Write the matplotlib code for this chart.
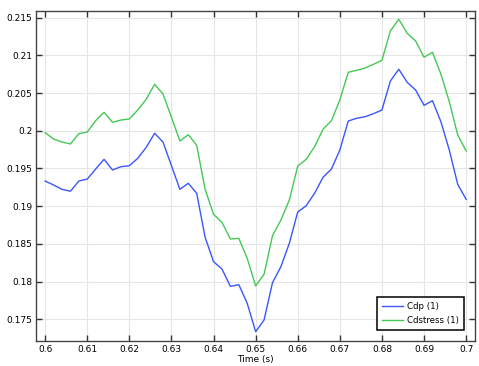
import numpy as np
import matplotlib
matplotlib.use('Agg')
import matplotlib.pyplot as plt

# time samples, every 0.002 s
t = np.arange(51) * 0.002 + 0.6

cdp = [0.19334, 0.19281, 0.19224, 0.19198, 0.19334, 0.19360, 0.19493, 0.19622,
       0.19480, 0.19524, 0.19537, 0.19635, 0.19780, 0.19967, 0.19850, 0.19537,
       0.19224, 0.19304, 0.19171, 0.18587, 0.18264, 0.18167, 0.17937, 0.17959,
       0.17712, 0.17335, 0.17491, 0.17985, 0.18198, 0.18508, 0.18923, 0.19006,
       0.19171, 0.19383, 0.19493, 0.19745, 0.20130, 0.20166, 0.20187, 0.20227,
       0.20276, 0.20660, 0.20816, 0.20643, 0.20541, 0.20338, 0.20399, 0.20121,
       0.19745, 0.19290, 0.19091]

cdstress = [0.19975, 0.19891, 0.19851, 0.19825, 0.19962, 0.19984, 0.20134, 0.20245,
            0.20113, 0.20143, 0.20157, 0.20276, 0.20418, 0.20617, 0.20488, 0.20179,
            0.19865, 0.19948, 0.19808, 0.19224, 0.18893, 0.18786, 0.18565, 0.18574,
            0.18309, 0.17942, 0.18097, 0.18609, 0.18817, 0.19082, 0.19533, 0.19622,
            0.19789, 0.20020, 0.20134, 0.20409, 0.20776, 0.20802, 0.20833, 0.20882,
            0.20935, 0.21324, 0.21479, 0.21293, 0.21191, 0.20975, 0.21041, 0.20753,
            0.20386, 0.19944, 0.19732]

xticks = [0.6, 0.61, 0.62, 0.63, 0.64, 0.65, 0.66, 0.67, 0.68, 0.69, 0.7]
xtick_labels = ['0.6', '0.61', '0.62', '0.63', '0.64', '0.65', '0.66', '0.67', '0.68', '0.69', '0.7']
yticks = [0.175, 0.18, 0.185, 0.19, 0.195, 0.2, 0.205, 0.21, 0.215]
ytick_labels = ['0.175', '0.18', '0.185', '0.19', '0.195', '0.2', '0.205', '0.21', '0.215']

fig = plt.figure(figsize=(4.79, 3.66), dpi=100)
ax = fig.add_axes([0.0758, 0.0691, 0.9158, 0.9017])

ax.plot(t, cdp, color='#3a56ff', lw=1.0, label='Cdp (1)')
ax.plot(t, cdstress, color='#45c954', lw=1.0, label='Cdstress (1)')

ax.set_xlim(0.5979, 0.7021)
ax.set_ylim(0.17216, 0.21593)
ax.set_xticks(xticks)
ax.set_xticklabels(xtick_labels)
ax.set_yticks(yticks)
ax.set_yticklabels(ytick_labels)
ax.tick_params(direction='in', top=True, right=True, labelsize=6.5, length=4,
               width=1.0, color='#333333', pad=3)
ax.grid(True, color='#e6e6e6', lw=0.8)
ax.set_axisbelow(True)
for s in ax.spines.values():
    s.set_color('#444444')
    s.set_linewidth(1.0)

ax.set_xlabel('Time (s)', fontsize=6.5, labelpad=1)

leg = ax.legend(loc='lower right', fontsize=6.2, fancybox=False, shadow=False,
                edgecolor='black', framealpha=1, borderaxespad=1.25,
                handlelength=2.45, handletextpad=0.45, borderpad=0.6,
                labelspacing=0.55)
leg.get_frame().set_linewidth(1.1)

fig.savefig('out.png', dpi=100)
